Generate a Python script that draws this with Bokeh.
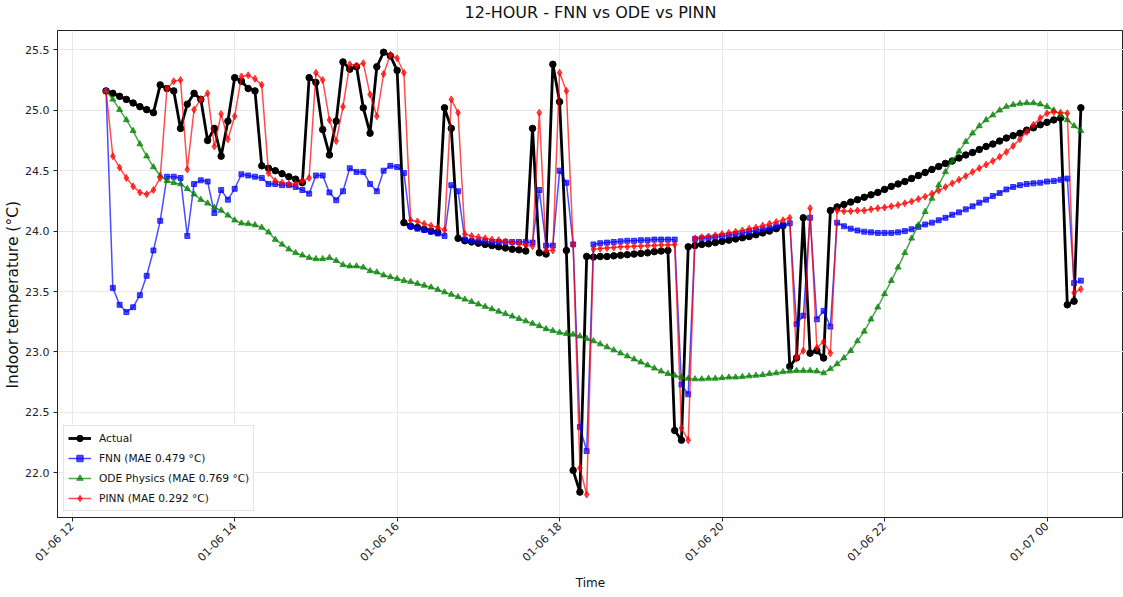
import math
import pandas as pd
from bokeh.plotting import figure
from bokeh.models import (Range1d, FixedTicker, DatetimeTickFormatter, Legend,
                          LegendItem, NumeralTickFormatter, Title)
from bokeh.embed import file_html
from bokeh.resources import INLINE

# ---------------- data ----------------
start_time = "2025-01-06 12:25"
n_points = 145
step = "5min"

actual = [25.16, 25.14, 25.115, 25.09, 25.06, 25.03, 25.005, 24.98, 25.21, 25.18,
          25.16, 24.85, 25.05, 25.14, 25.09, 24.75, 24.85, 24.62, 24.91, 25.27,
          25.24, 25.18, 25.16, 24.54, 24.52, 24.50, 24.475, 24.45, 24.43, 24.40,
          25.27, 25.23, 24.84, 24.63, 24.91, 25.40, 25.34, 25.36, 25.02, 24.81,
          25.36, 25.48, 25.45, 25.33, 24.07, 24.04, 24.03, 24.015, 24.0, 23.99,
          25.02, 24.85, 23.94, 23.92, 23.91, 23.90, 23.89, 23.88, 23.87, 23.86,
          23.85, 23.845, 23.835, 24.85, 23.82, 23.81, 25.38, 25.07, 23.84, 22.02,
          21.84, 23.79, 23.785, 23.79, 23.79, 23.795, 23.80, 23.805, 23.81, 23.815,
          23.82, 23.83, 23.835, 23.84, 22.35, 22.27, 23.87, 23.88, 23.89, 23.895,
          23.905, 23.915, 23.925, 23.935, 23.945, 23.955, 23.97, 23.985, 24.0, 24.02,
          24.045, 22.88, 22.95, 24.11, 22.99, 23.01, 22.95, 24.17, 24.20, 24.22,
          24.24, 24.26, 24.28, 24.30, 24.32, 24.345, 24.37, 24.39, 24.41, 24.435,
          24.46, 24.485, 24.51, 24.535, 24.56, 24.58, 24.605, 24.63, 24.65, 24.675,
          24.70, 24.72, 24.745, 24.77, 24.79, 24.81, 24.835, 24.855, 24.88, 24.90,
          24.92, 24.935, 23.39, 23.42, 25.02]

fnn = [25.16, 23.53, 23.39, 23.33, 23.37, 23.47, 23.63, 23.84, 24.085, 24.45,
       24.45, 24.44, 23.96, 24.39, 24.42, 24.41, 24.15, 24.34, 24.26, 24.35,
       24.47, 24.46, 24.45, 24.44, 24.39, 24.39, 24.38, 24.38, 24.365, 24.34,
       24.31, 24.46, 24.46, 24.32, 24.255, 24.33, 24.52, 24.49, 24.49, 24.39,
       24.33, 24.50, 24.54, 24.53, 24.48, 24.04, 24.02, 24.01, 23.995, 23.98,
       23.96, 24.38, 24.33, 23.93, 23.92, 23.915, 23.915, 23.91, 23.91, 23.91,
       23.91, 23.91, 23.91, 23.905, 24.34, 23.88, 23.88, 24.50, 24.40, 23.89,
       22.38, 22.18, 23.89, 23.90, 23.905, 23.91, 23.915, 23.92, 23.92, 23.925,
       23.925, 23.93, 23.93, 23.93, 23.93, 22.73, 22.65, 23.935, 23.94, 23.945,
       23.95, 23.96, 23.965, 23.975, 23.985, 23.995, 24.005, 24.015, 24.025, 24.04,
       24.05, 24.065, 23.23, 23.30, 24.11, 23.27, 23.34, 23.21, 24.07, 24.04,
       24.02, 24.005, 23.995, 23.99, 23.985, 23.985, 23.985, 23.99, 24.0, 24.015,
       24.035, 24.055, 24.07, 24.09, 24.11, 24.135, 24.155, 24.18, 24.205, 24.235,
       24.26, 24.29, 24.315, 24.345, 24.365, 24.38, 24.39, 24.395, 24.40, 24.41,
       24.415, 24.425, 24.435, 23.57, 23.59]

ode = [25.16, 25.09, 25.005, 24.92, 24.83, 24.72, 24.62, 24.53, 24.46, 24.415,
       24.40, 24.39, 24.35, 24.305, 24.26, 24.23, 24.195, 24.17, 24.13, 24.09,
       24.065, 24.06, 24.05, 24.03, 23.99, 23.93, 23.89, 23.85, 23.82, 23.80,
       23.78, 23.77, 23.77, 23.78, 23.755, 23.72, 23.71, 23.71, 23.70, 23.67,
       23.66, 23.635, 23.62, 23.605, 23.59, 23.58, 23.565, 23.55, 23.535, 23.515,
       23.495, 23.475, 23.455, 23.435, 23.415, 23.395, 23.375, 23.355, 23.335, 23.315,
       23.295, 23.275, 23.255, 23.235, 23.215, 23.19, 23.175, 23.16, 23.15, 23.145,
       23.13, 23.11, 23.09, 23.065, 23.04, 23.015, 22.99, 22.965, 22.94, 22.915,
       22.89, 22.865, 22.84, 22.82, 22.805, 22.79, 22.78, 22.775, 22.775, 22.78,
       22.78, 22.785, 22.79, 22.79, 22.795, 22.80, 22.805, 22.81, 22.82, 22.825,
       22.835, 22.84, 22.845, 22.845, 22.845, 22.84, 22.825, 22.86, 22.90, 22.95,
       23.01, 23.09, 23.17, 23.27, 23.37, 23.48, 23.59, 23.70, 23.82, 23.94,
       24.05, 24.16, 24.27, 24.38, 24.49, 24.58, 24.66, 24.74, 24.81, 24.87,
       24.92, 24.96, 25.0, 25.03, 25.045, 25.055, 25.06, 25.06, 25.05, 25.03,
       25.0, 24.96, 24.92, 24.87, 24.83]

pinn = [25.16, 24.62, 24.525, 24.44, 24.37, 24.32, 24.305, 24.34, 24.44, 25.18,
        25.24, 25.25, 24.51, 25.005, 25.09, 25.14, 24.70, 24.97, 24.76, 24.95,
        25.28, 25.29, 25.26, 25.21, 24.48, 24.415, 24.40, 24.39, 24.39, 24.415,
        24.44, 25.31, 25.25, 24.92, 24.745, 25.03, 25.38, 25.37, 25.39, 25.13,
        24.95, 25.30, 25.46, 25.43, 25.31, 24.09, 24.08, 24.06, 24.045, 24.03,
        24.01, 25.09, 24.98, 23.975, 23.96, 23.95, 23.94, 23.93, 23.925, 23.915,
        23.905, 23.895, 23.885, 23.875, 24.98, 23.84, 23.84, 25.31, 25.16, 23.89,
        22.04, 21.82, 23.85, 23.855, 23.86, 23.865, 23.87, 23.87, 23.875, 23.875,
        23.88, 23.88, 23.885, 23.885, 23.89, 22.37, 22.27, 23.94, 23.95, 23.955,
        23.965, 23.975, 23.985, 23.995, 24.005, 24.02, 24.03, 24.045, 24.06, 24.075,
        24.09, 24.11, 22.95, 23.01, 24.19, 23.035, 23.085, 22.99, 24.17, 24.165,
        24.165, 24.17, 24.17, 24.18, 24.19, 24.195, 24.205, 24.215, 24.23, 24.245,
        24.265, 24.285, 24.31, 24.335, 24.365, 24.395, 24.425, 24.455, 24.49, 24.52,
        24.55, 24.58, 24.615, 24.655, 24.705, 24.76, 24.82, 24.88, 24.935, 24.975,
        24.985, 24.98, 24.975, 23.49, 23.52]

labels = ["Actual", "FNN (MAE 0.479 °C)", "ODE Physics (MAE 0.769 °C)", "PINN (MAE 0.292 °C)"]
x_tick_times = ["2025-01-06 12:00", "2025-01-06 14:00", "2025-01-06 16:00", "2025-01-06 18:00",
                "2025-01-06 20:00", "2025-01-06 22:00", "2025-01-07 00:00"]
y_ticks = [22.0, 22.5, 23.0, 23.5, 24.0, 24.5, 25.0, 25.5]

times = pd.date_range(start_time, periods=n_points, freq=step)

# ---------------- figure ----------------
FONT = "DejaVu Sans"
x_start = pd.Timestamp("2025-01-06 11:49:08")
x_end = pd.Timestamp("2025-01-07 00:56:30")

p = figure(width=1123, height=597, x_axis_type="datetime",
           output_backend="svg", toolbar_location=None,
           x_range=Range1d(x_start, x_end),
           y_range=Range1d(21.63, 25.66),
           min_border_left=57, min_border_right=0, min_border_top=28, min_border_bottom=80)

p.background_fill_color = "white"
p.border_fill_color = "white"
p.outline_line_color = "#222222"
p.outline_line_width = 1

p.title.text = "12-HOUR - FNN vs ODE vs PINN"
p.title.align = "center"
p.title.text_font = FONT
p.title.text_font_size = "16px"
p.title.text_font_style = "normal"
p.title.text_color = "#111111"
p.title.standoff = 0
# thin spacer between title and frame
p.add_layout(Title(text=" ", text_font_size="1px", standoff=6), "above")

# y-axis title as a side title (allows matching its vertical placement)
p.add_layout(Title(text="Indoor temperature (°C)", align="left", offset=129,
                   text_font=FONT, text_font_size="15.5px", text_font_style="normal",
                   text_color="#111111", standoff=1), "left")

xt = FixedTicker(ticks=[pd.Timestamp(t).value / 1e6 for t in x_tick_times])
p.xaxis.ticker = xt
p.xgrid.ticker = xt
fmt = "%m-%d %H"
p.xaxis.formatter = DatetimeTickFormatter(milliseconds=fmt, seconds=fmt, minsec=fmt, minutes=fmt,
                                          hourmin=fmt, hours=fmt, days=fmt, months=fmt, years=fmt)
p.xaxis.major_label_orientation = math.pi / 4

yt = FixedTicker(ticks=y_ticks)
p.yaxis.ticker = yt
p.ygrid.ticker = yt
p.yaxis.formatter = NumeralTickFormatter(format="0.0")

for ax in (p.xaxis, p.yaxis):
    ax.axis_label_text_font = FONT
    ax.axis_label_text_font_style = "normal"
    ax.axis_label_text_font_size = "12px"
    ax.axis_label_text_color = "#111111"
    ax.major_label_text_font = FONT
    ax.major_label_text_font_size = "11px"
    ax.major_label_text_color = "#222222"
    ax.axis_line_color = "#222222"
    ax.major_tick_line_color = "#222222"
    ax.major_tick_out = 4
    ax.major_tick_in = 0
    ax.minor_tick_line_color = None

p.xaxis.axis_label = "Time"
p.xaxis.major_label_standoff = 3
p.yaxis.major_label_standoff = 4
p.xaxis.axis_label_standoff = 4

p.grid.grid_line_color = "#e8e8e8"
p.grid.grid_line_width = 1

# ---------------- series ----------------
items = []
la = p.line(times, actual, line_color="black", line_width=2.8)
sa = p.scatter(times, actual, marker="circle", size=6.5, color="black")
items.append(LegendItem(label=labels[0], renderers=[la, sa]))

lf = p.line(times, fnn, line_color="blue", line_width=1.5, line_alpha=0.7)
sf = p.scatter(times, fnn, marker="square", size=5, color="blue", alpha=0.7)
items.append(LegendItem(label=labels[1], renderers=[lf, sf]))

lo = p.line(times, ode, line_color="green", line_width=1.5, line_alpha=0.7)
so = p.scatter(times, ode, marker="triangle", size=6, color="green", alpha=0.7)
items.append(LegendItem(label=labels[2], renderers=[lo, so]))

lp = p.line(times, pinn, line_color="red", line_width=1.5, line_alpha=0.7)
sp = p.scatter(times, pinn, marker="diamond", size=7, color="red", alpha=0.7)
items.append(LegendItem(label=labels[3], renderers=[lp, sp]))

legend = Legend(items=items, location="bottom_left")
legend.label_text_font = FONT
legend.label_text_font_size = "10.6px"
legend.label_text_color = "#111111"
legend.glyph_width = 23
legend.glyph_height = 16
legend.label_height = 16
legend.spacing = 4
legend.padding = 4
legend.margin = 6
legend.label_standoff = 8
legend.border_line_color = "#cccccc"
legend.background_fill_alpha = 0.85
p.add_layout(legend)

open("out.html", "w").write(file_html(p, INLINE))
